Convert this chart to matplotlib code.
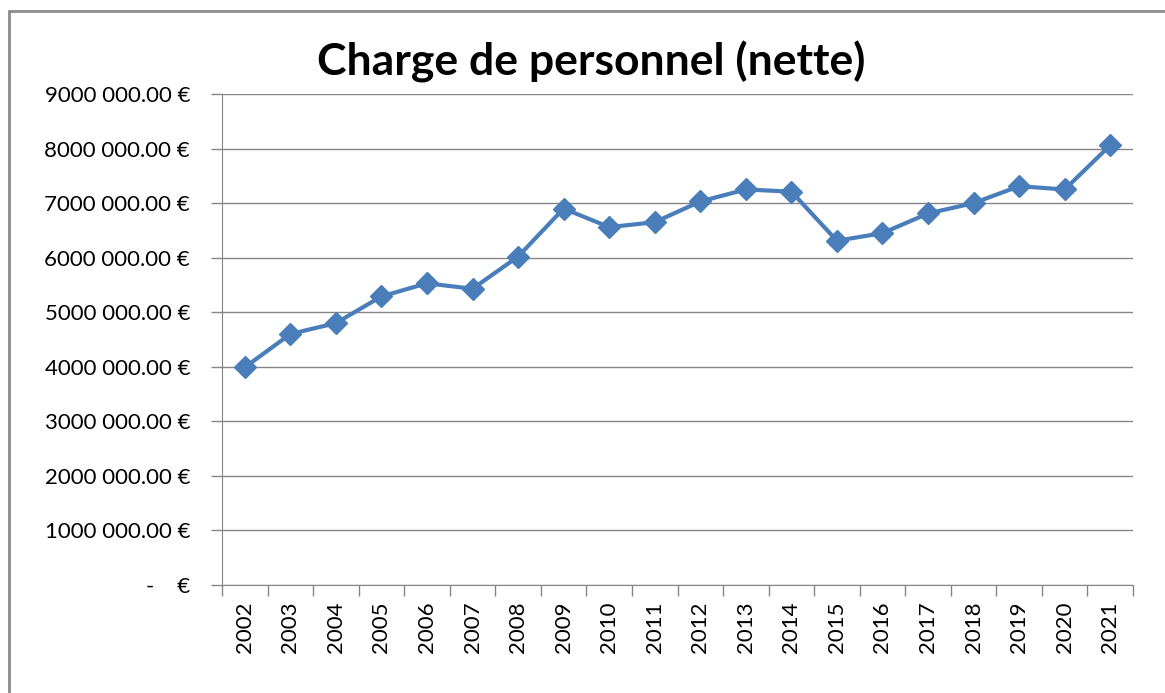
import matplotlib
matplotlib.use("Agg")
import matplotlib.pyplot as plt
from matplotlib.ticker import FuncFormatter, FixedLocator
from matplotlib.patches import Rectangle

years = ["2002", "2003", "2004", "2005", "2006", "2007", "2008", "2009", "2010", "2011",
         "2012", "2013", "2014", "2015", "2016", "2017", "2018", "2019", "2020", "2021"]
values = [3990000, 4600000, 4800000, 5290000, 5530000, 5430000, 6020000, 6900000, 6560000, 6650000,
          7030000, 7250000, 7210000, 6310000, 6450000, 6810000, 7000000, 7310000, 7250000, 8060000]
title = "Charge de personnel (nette)"
y_ticks = [0, 1000000, 2000000, 3000000, 4000000, 5000000, 6000000, 7000000, 8000000, 9000000]

plt.rcParams['font.family'] = ['Lato', 'DejaVu Sans']

W, H = 1165, 693
fig = plt.figure(figsize=(W / 100, H / 100), dpi=100)
fig.patch.set_facecolor("white")

# outer chart frame
fig.add_artist(Rectangle((9 / W, -0.1), 1.2, (H - 11) / H + 0.1, transform=fig.transFigure,
                         fill=False, edgecolor="#8c8c8c", linewidth=2))

ax = fig.add_axes([222 / W, 1 - 585 / H, (1133 - 222) / W, (585 - 94) / H])
x = list(range(len(years)))
ax.plot(x, values, color="#4a7ebb", linewidth=3, marker="D", markersize=11,
        markerfacecolor="#4a7ebb", markeredgecolor="#4a7ebb", zorder=3)

ax.set_xlim(-0.5, len(years) - 0.5)
ax.set_ylim(0, 9000000)
ax.set_yticks(y_ticks)

def fmt(v, pos):
    if v == 0:
        return "-    €"
    m = int(round(v / 1000000))
    return f"{m}000 000.00 €"

ax.yaxis.set_major_formatter(FuncFormatter(fmt))
ax.set_xticks(x)
ax.set_xticklabels(years, rotation=90)
ax.xaxis.set_minor_locator(FixedLocator([i - 0.5 for i in range(len(years) + 1)]))
ax.tick_params(axis="x", which="major", length=0, pad=12, labelsize=16)
ax.tick_params(axis="x", which="minor", length=8, color="#868686", width=1)
ax.tick_params(axis="y", length=8, color="#868686", width=1, labelsize=16, pad=15)

ax.grid(axis="y", color="#868686", linewidth=1)
ax.set_axisbelow(True)
for s in ["top", "right"]:
    ax.spines[s].set_visible(False)
ax.spines["left"].set_color("#868686")
ax.spines["bottom"].set_color("#868686")

fig.text(591 / W, 1 - 62 / H, title, ha="center", va="center", fontsize=32, fontweight="bold")

fig.savefig("out.png", dpi=100)
